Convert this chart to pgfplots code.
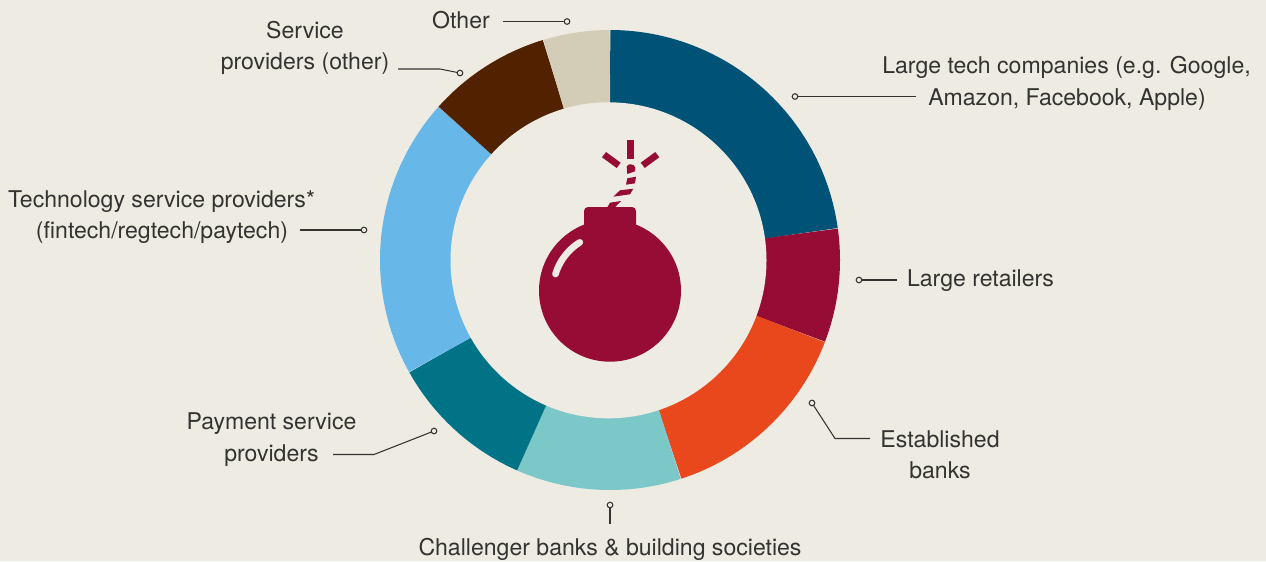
\documentclass[border=0pt]{standalone}
\usepackage{pgfplots}
\pgfplotsset{compat=1.18}
\usepackage{fontspec}
\setmainfont{TeX Gyre Heros}
\definecolor{paper}{HTML}{EEEBE3}
\definecolor{techblue}{HTML}{005377}
\definecolor{crimson}{HTML}{970C35}
\definecolor{flame}{HTML}{E8481C}
\definecolor{paleteal}{HTML}{7CC8C8}
\definecolor{deepteal}{HTML}{007386}
\definecolor{sky}{HTML}{67B7E8}
\definecolor{umber}{HTML}{522200}
\definecolor{sand}{HTML}{D3CDB8}
\definecolor{ink}{HTML}{333331}

% Ring geometry, in axis units: centre and mid radius of a broad band, which
% the central disc then trims to its inner edge
\def\cx{610}\def\cy{260}\def\rmid{185}
\newcommand\angStart{0}
% \slice{share in per cent}{colour}: next band segment, clockwise from the top
\newcommand\slice[2]{%
  \pgfmathsetmacro\angEnd{\angStart+3.6*#1}%
  \edef\tmp{\noexpand\addplot[draw=#2,line width=67.5pt,line cap=butt,no marks,
    domain=\angStart:\angEnd,samples=70,smooth]
    ({\cx+\rmid*sin(x)},{\cy-\rmid*cos(x)});}%
  \tmp
  \global\let\angStart\angEnd
}
% \callout{coordinates}: leader line with an open dot on its first point
\newcommand\callout[1]{%
  \addplot[ink,line width=0.8pt,mark=*,mark indices={1},mark size=2.1pt,
    mark options={fill=paper,draw=ink,line width=0.8pt,solid}] coordinates {#1};}
\newcommand\lbl[3]{\node[anchor=base,inner sep=0pt,text=ink,font=\fontsize{17.3}{20}\selectfont] at (axis cs:#1,#2) {#3};}

\begin{document}
\begin{tikzpicture}
\begin{axis}[
  scale only axis, width=949.5pt, height=420.75pt,
  xmin=0, xmax=1266, ymin=0, ymax=561, y dir=reverse,
  hide axis, clip=true]

\fill[paper] (axis cs:0,0) rectangle (axis cs:1266,561);

\slice{22.8}{techblue}
\slice{8.0}{crimson}
\slice{14.2}{flame}
\slice{11.6}{paleteal}
\slice{10.3}{deepteal}
\slice{19.7}{sky}
\slice{8.7}{umber}
\slice{4.7}{sand}

% Central disc
\fill[paper] (axis cs:608.5,260.3) circle[radius=118.5pt];

% Bomb: body, collar, highlight, sparks and fuse
\fill[crimson] (axis cs:610,290.7) circle[radius=53.25pt];
\fill[crimson,rounded corners=3pt] (axis cs:584,235) -- (axis cs:584,207) -- (axis cs:636,207) -- (axis cs:636,235) -- cycle;
\addplot[paper,line width=5pt,line cap=round,no marks,domain=-73:-32,samples=20,smooth]
  ({610+57*sin(x)},{290.7-57*cos(x)});
\fill[crimson] (axis cs:627,140) rectangle (axis cs:634,158.7);
\fill[crimson] (axis cs:606,152) -- (axis cs:602,157.3) -- (axis cs:616.7,168) -- (axis cs:620.7,162.7) -- cycle;
\fill[crimson] (axis cs:655.3,152) -- (axis cs:659.3,157.3) -- (axis cs:644.7,168) -- (axis cs:640.7,162.7) -- cycle;
\fill[crimson] (axis cs:627.3,174) -- (axis cs:626.7,166.7) .. controls (axis cs:627.5,164.5) and (axis cs:629,164.3) .. (axis cs:630.7,164.3)
  .. controls (axis cs:633,164.3) and (axis cs:635,165.5) .. (axis cs:635.3,167.7) -- (axis cs:635,171.3) -- cycle;
\fill[crimson] (axis cs:627.3,178.3) -- (axis cs:636,176.7) -- (axis cs:635,183.3) -- (axis cs:626,184.7) -- cycle;
\fill[crimson] (axis cs:620,190.3) -- (axis cs:633.3,188.7) -- (axis cs:630,194.3) -- (axis cs:613.3,196.7) -- cycle;
\fill[crimson] (axis cs:610,202.7) -- (axis cs:621,201) -- (axis cs:615,207.3) -- (axis cs:607.3,207.3) -- cycle;

% Leader lines
\callout{(795,96.5) (916,96.5)}
\callout{(859,280) (897,280)}
\callout{(812,403) (835,438.5) (870,438.5)}
\callout{(610,505) (610,524)}
\callout{(434,431) (374,454.5) (333,454.5)}
\callout{(364,230) (300,230)}
\callout{(460,73) (440,69) (398,69)}
\callout{(567,21.5) (503,21.5)}

% Segment labels
\lbl{1066.5}{73.3}{Large tech companies (e.g. Google,}
\lbl{1067}{105.5}{Amazon, Facebook, Apple)}
\lbl{980.5}{286.5}{Large retailers}
\lbl{940}{447.3}{Established}
\lbl{940}{478.5}{banks}
\lbl{610}{555.5}{Challenger banks \& building societies}
\lbl{271.5}{429.5}{Payment service}
\lbl{271.5}{461.2}{providers}
\lbl{161.5}{207.5}{Technology service providers*}
\lbl{162}{238.5}{(fintech/regtech/paytech)}
\lbl{305}{38.3}{Service}
\lbl{305}{69.8}{providers (other)}
\lbl{461}{28.5}{Other}
\end{axis}
\end{tikzpicture}
\end{document}
